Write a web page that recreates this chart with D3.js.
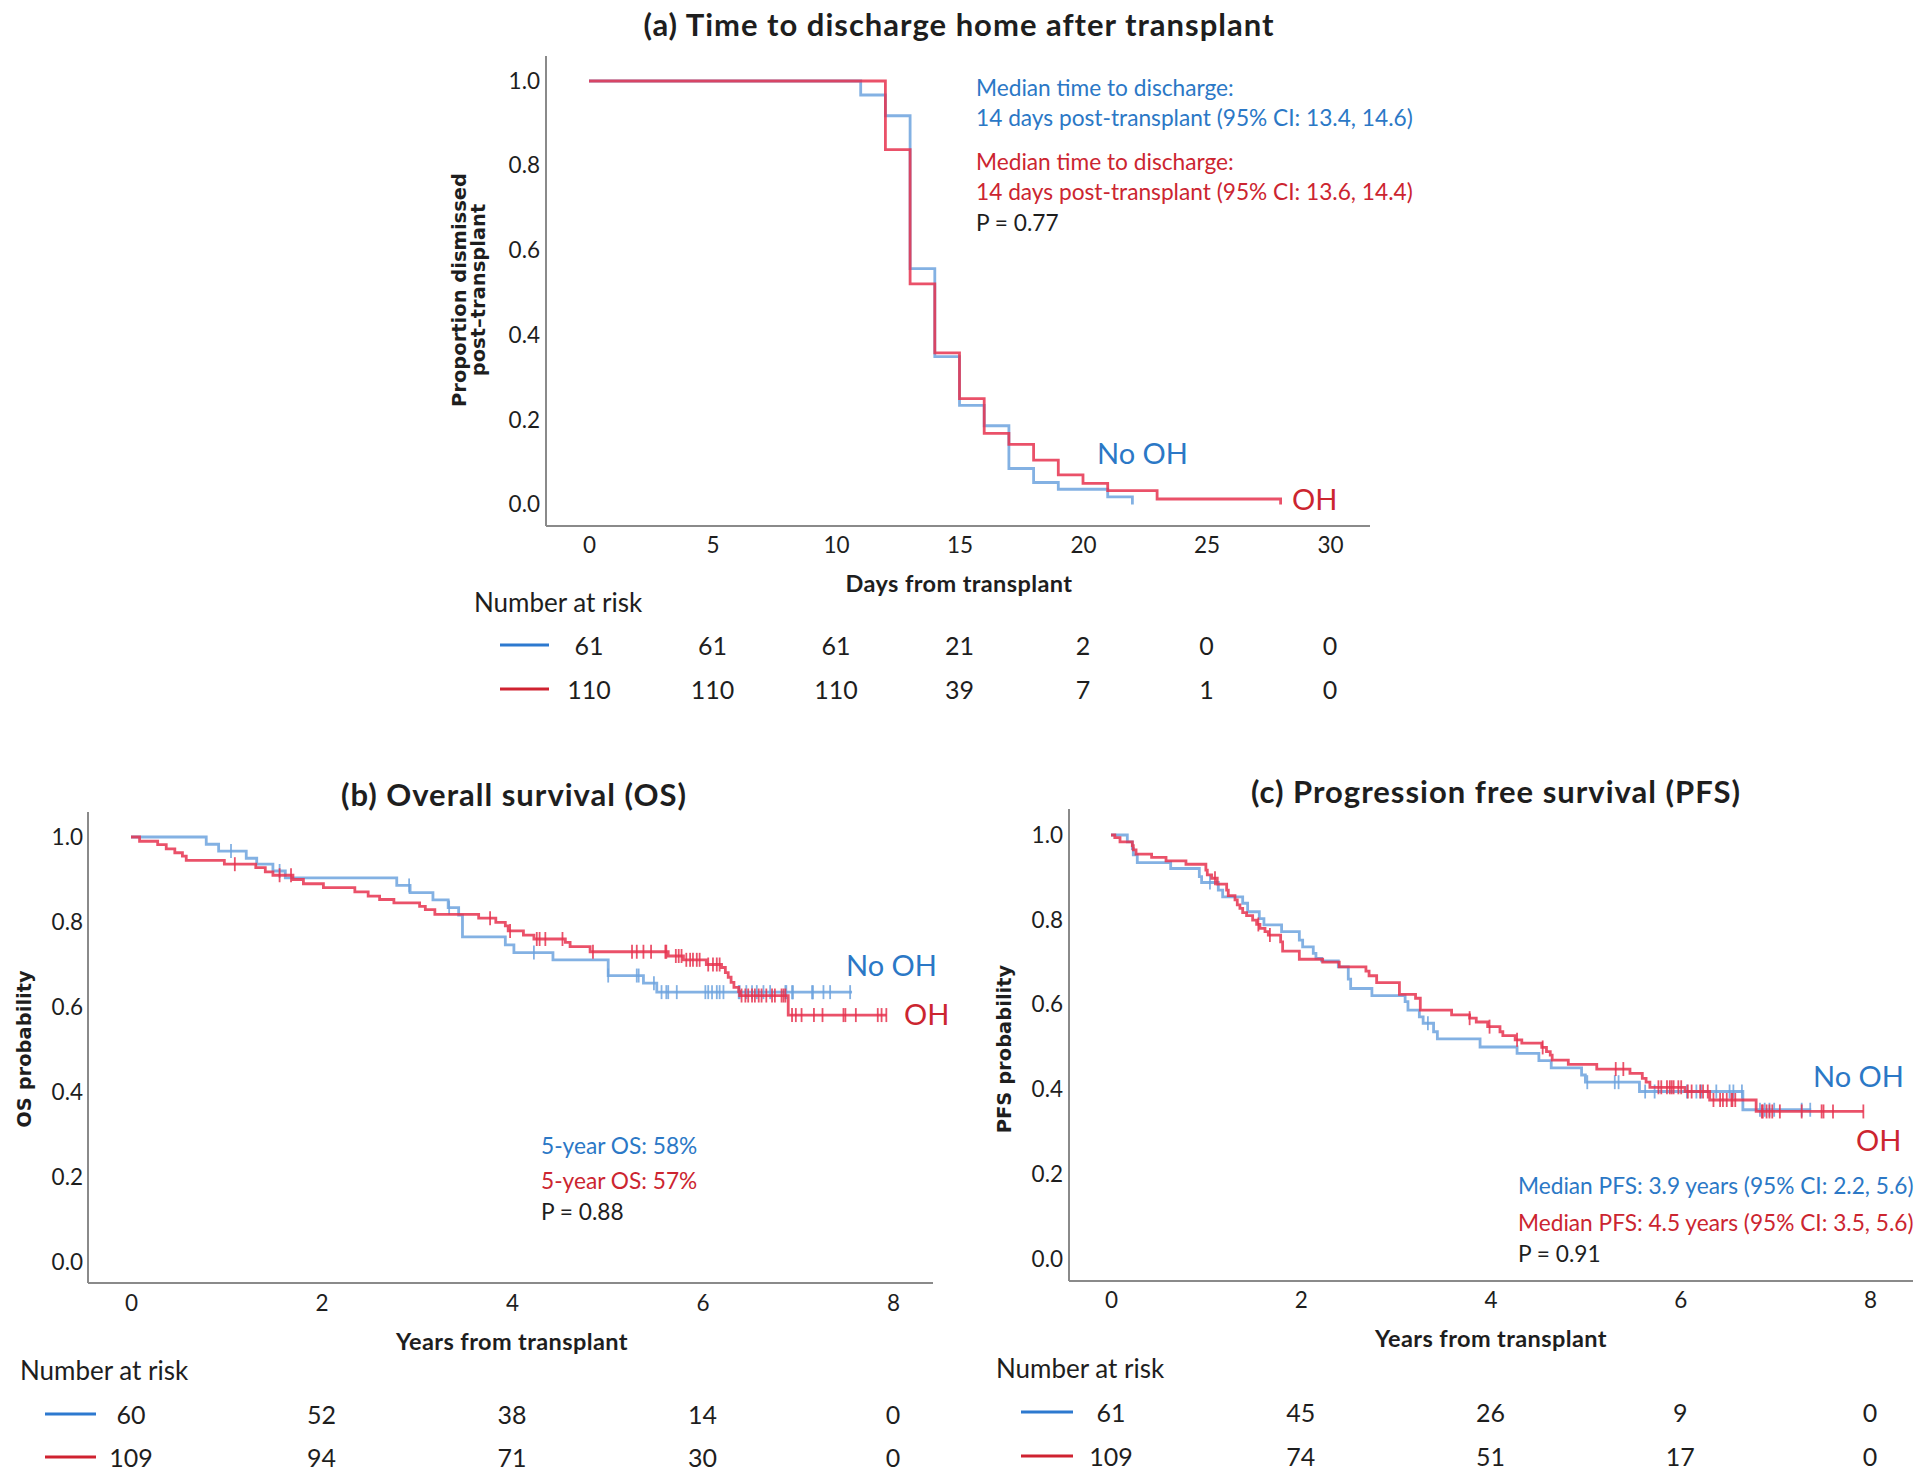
<!DOCTYPE html>
<html>
<head>
<meta charset="utf-8">
<script src="https://cdn.jsdelivr.net/npm/d3@7"></script>
<style>
  html, body { margin: 0; padding: 0; background: #fff; }
  svg { display: block; }
</style>
</head>
<body>
<svg id="chart" width="1920" height="1479"></svg>
<script>
// ---------------- DATA ----------------
// Panel (a): time to discharge (days)
const dischargeTicks = [0, 5, 10, 15, 20, 25, 30];
const dischargeNoOH_t = [0, 11, 12, 13, 14, 15, 16, 17, 18, 19, 21, 22];
const dischargeNoOH_s = [1, 0.967, 0.918, 0.557, 0.349, 0.234, 0.186, 0.085, 0.052, 0.036, 0.018, 0];
const dischargeNoOH_end = 22;
const dischargeOH_t = [0, 12, 13, 14, 15, 16, 17, 18, 19, 20, 21, 23, 28];
const dischargeOH_s = [1, 0.838, 0.521, 0.358, 0.25, 0.168, 0.142, 0.105, 0.07, 0.05, 0.033, 0.013, 0];
const dischargeOH_end = 28;
const dischargeRiskNoOH = [61, 61, 61, 21, 2, 0, 0];
const dischargeRiskOH = [110, 110, 110, 39, 7, 1, 0];

// Panel (b): overall survival (years)
const yearTicks = [0, 2, 4, 6, 8];
const probTicks = [0, 0.2, 0.4, 0.6, 0.8, 1.0];
const osNoOH_t = [0, 0.79, 0.92, 1.21, 1.32, 1.49, 1.62, 2.79, 2.93, 3.17, 3.33, 3.44, 3.48, 3.93, 4.02, 4.43, 5.01, 5.38, 5.52];
const osNoOH_s = [1, 0.983, 0.967, 0.95, 0.936, 0.92, 0.904, 0.886, 0.869, 0.852, 0.834, 0.816, 0.765, 0.746, 0.728, 0.711, 0.674, 0.656, 0.635];
const osNoOH_end = 7.57;
const osNoOH_censor = [1.05, 1.56, 2.92, 3.34, 4.23, 5.01, 5.31, 5.33, 5.49, 5.57, 5.62, 5.64, 5.73, 6.03, 6.06, 6.10, 6.15, 6.18, 6.22, 6.38, 6.39, 6.46, 6.52, 6.57, 6.64, 6.71, 6.87, 6.88, 6.94, 6.95, 7.15, 7.16, 7.27, 7.34, 7.55];
const osOH_t = [0, 0.09, 0.28, 0.37, 0.46, 0.54, 0.58, 0.98, 1.31, 1.41, 1.49, 1.70, 1.81, 2.02, 2.35, 2.49, 2.61, 2.76, 3.03, 3.09, 3.19, 3.65, 3.83, 3.93, 3.96, 4.12, 4.23, 4.56, 4.61, 4.82, 5.64, 5.80, 6.04, 6.20, 6.24, 6.27, 6.30, 6.33, 6.38, 6.39, 6.90];
const osOH_s = [1, 0.99, 0.982, 0.972, 0.963, 0.955, 0.945, 0.936, 0.928, 0.918, 0.91, 0.90, 0.89, 0.881, 0.871, 0.861, 0.853, 0.845, 0.837, 0.829, 0.818, 0.809, 0.799, 0.791, 0.779, 0.769, 0.76, 0.752, 0.742, 0.730, 0.72, 0.711, 0.70, 0.693, 0.681, 0.67, 0.658, 0.646, 0.636, 0.627, 0.581];
const osOH_end = 7.93;
const osOH_censor = [1.09, 1.56, 1.68, 3.77, 3.98, 4.26, 4.29, 4.35, 4.53, 4.85, 5.26, 5.31, 5.38, 5.46, 5.61, 5.62, 5.72, 5.75, 5.78, 5.83, 5.87, 5.90, 5.94, 5.97, 6.06, 6.11, 6.15, 6.18, 6.41, 6.45, 6.48, 6.52, 6.55, 6.59, 6.62, 6.67, 6.73, 6.76, 6.83, 6.85, 6.87, 6.94, 6.98, 7.04, 7.17, 7.26, 7.48, 7.50, 7.61, 7.84, 7.88, 7.93];
const osRiskNoOH = [60, 52, 38, 14, 0];
const osRiskOH = [109, 94, 71, 30, 0];

// Panel (c): progression free survival (years)
const pfsNoOH_t = [0, 0.172, 0.225, 0.235, 0.277, 0.629, 0.931, 0.955, 1.131, 1.177, 1.388, 1.44, 1.563, 1.612, 1.798, 1.985, 2.02, 2.132, 2.16, 2.22, 2.396, 2.501, 2.526, 2.75, 3.10, 3.13, 3.25, 3.29, 3.40, 3.44, 3.89, 4.28, 4.51, 4.64, 4.96, 5.00, 5.57, 6.66];
const pfsNoOH_s = [1, 0.984, 0.968, 0.953, 0.935, 0.921, 0.902, 0.888, 0.870, 0.854, 0.839, 0.819, 0.803, 0.788, 0.772, 0.752, 0.736, 0.721, 0.709, 0.703, 0.689, 0.66, 0.638, 0.621, 0.607, 0.587, 0.571, 0.556, 0.536, 0.519, 0.5, 0.485, 0.468, 0.451, 0.434, 0.417, 0.395, 0.352];
const pfsNoOH_end = 7.38;
const pfsNoOH_censor = [1.043, 3.34, 5.02, 5.31, 5.35, 5.63, 5.73, 6.07, 6.17, 6.22, 6.38, 6.52, 6.56, 6.65, 6.84, 6.89, 6.94, 6.99, 7.28, 7.37];
const pfsOH_t = [0, 0.04, 0.095, 0.225, 0.235, 0.264, 0.428, 0.58, 0.79, 1.0, 1.015, 1.061, 1.12, 1.219, 1.236, 1.307, 1.331, 1.359, 1.388, 1.429, 1.493, 1.535, 1.57, 1.623, 1.658, 1.788, 1.809, 1.985, 2.231, 2.406, 2.687, 2.72, 2.80, 3.04, 3.21, 3.26, 3.59, 3.78, 3.85, 3.97, 4.10, 4.13, 4.26, 4.33, 4.54, 4.59, 4.63, 4.65, 4.82, 5.12, 5.47, 5.60, 5.64, 5.68, 6.05, 6.31, 6.80];
const pfsOH_s = [1, 0.994, 0.984, 0.975, 0.965, 0.955, 0.947, 0.939, 0.931, 0.917, 0.906, 0.898, 0.884, 0.870, 0.857, 0.847, 0.835, 0.827, 0.817, 0.81, 0.799, 0.789, 0.78, 0.772, 0.764, 0.748, 0.726, 0.707, 0.70, 0.689, 0.679, 0.668, 0.652, 0.624, 0.615, 0.587, 0.576, 0.568, 0.559, 0.548, 0.536, 0.527, 0.517, 0.509, 0.499, 0.489, 0.481, 0.469, 0.459, 0.448, 0.438, 0.426, 0.417, 0.405, 0.395, 0.375, 0.348];
const pfsOH_end = 7.93;
const pfsOH_censor = [1.096, 1.553, 1.675, 3.78, 3.99, 4.28, 4.55, 5.32, 5.40, 5.77, 5.80, 5.86, 5.89, 5.91, 5.93, 5.98, 6.01, 6.08, 6.12, 6.21, 6.24, 6.29, 6.35, 6.42, 6.45, 6.49, 6.54, 6.55, 6.58, 6.86, 6.87, 6.91, 6.94, 6.97, 7.05, 7.28, 7.49, 7.51, 7.61, 7.93];
const pfsRiskNoOH = [61, 45, 26, 9, 0];
const pfsRiskOH = [109, 74, 51, 17, 0];

// ---------------- STYLE ----------------
const FONT = "Lato, 'Open Sans', sans-serif";
const WIDE = "'DejaVu Sans', Verdana, sans-serif";
const BLUE_TXT = "#2b78c6";
const RED_TXT = "#cc2530";
const BLUE_LINE = "#6da3de";
const RED_LINE = "#e6324f";
const AXIS = "#8a8a8a";
const INK = "#1e1e1e";

const svg = d3.select("#chart");

function stepPoints(ts, ss, end) {
  const pts = ts.map((t, i) => [t, ss[i]]);
  pts.push([end, ss[ss.length - 1]]);
  return pts;
}
function survAt(ts, ss, t) {
  const i = d3.bisectRight(ts, t) - 1;
  return ss[Math.max(0, i)];
}

function panel(cfg) {
  const g = svg.append("g");
  const x = d3.scaleLinear().domain(cfg.xDomain).range(cfg.xRange);
  const y = d3.scaleLinear().domain([0, 1]).range(cfg.yRange);

  // title
  g.append("text").attr("x", cfg.title.x).attr("y", cfg.title.y)
    .attr("text-anchor", "middle").attr("dominant-baseline", "central")
    .attr("font-family", FONT).attr("font-weight", "bold").attr("font-size", 31)
    .attr("letter-spacing", 1)
    .attr("fill", INK).text(cfg.title.text);

  // axis frame lines
  g.append("line").attr("x1", cfg.frame.left).attr("x2", cfg.frame.left)
    .attr("y1", cfg.frame.top).attr("y2", cfg.frame.bottom)
    .attr("stroke", AXIS).attr("stroke-width", 2);
  g.append("line").attr("x1", cfg.frame.left).attr("x2", cfg.frame.right)
    .attr("y1", cfg.frame.bottom).attr("y2", cfg.frame.bottom)
    .attr("stroke", AXIS).attr("stroke-width", 2);

  // y tick labels
  const yAxis = d3.axisLeft(y).tickValues(probTicks).tickSize(0).tickPadding(0)
    .tickFormat(d3.format(".1f"));
  const ya = g.append("g").attr("transform", `translate(${cfg.yLabelX},0)`).call(yAxis);
  ya.select(".domain").remove();
  ya.selectAll("text").attr("font-family", FONT).attr("font-size", 22.5).attr("fill", INK);

  // x tick labels
  const xAxis = d3.axisBottom(x).tickValues(cfg.xTicks).tickSize(0).tickPadding(0)
    .tickFormat(d3.format("d"));
  const xa = g.append("g").attr("transform", `translate(0,${cfg.xLabelY})`).call(xAxis);
  xa.select(".domain").remove();
  xa.selectAll("text").attr("font-family", FONT).attr("font-size", 22.5).attr("fill", INK)
    .attr("dy", "0.35em");

  // axis titles
  g.append("text").attr("x", cfg.xTitle.x).attr("y", cfg.xTitle.y)
    .attr("text-anchor", "middle").attr("dominant-baseline", "central")
    .attr("font-family", FONT).attr("font-weight", "bold").attr("font-size", 23.5)
    .attr("letter-spacing", 0.4)
    .attr("fill", INK).text(cfg.xTitle.text);
  const yt = g.append("text")
    .attr("transform", `translate(${cfg.yTitle.x},${cfg.yTitle.y}) rotate(-90)`)
    .attr("text-anchor", "middle")
    .attr("font-family", WIDE).attr("font-weight", "bold").attr("font-size", 19.5)
    .attr("fill", INK);
  cfg.yTitle.lines.forEach((ln, i) => {
    yt.append("tspan").attr("x", 0).attr("dy", i === 0 ? (cfg.yTitle.lines.length > 1 ? "-0.3em" : "0.35em") : "0.95em").text(ln);
  });

  // curves
  const line = d3.line().x(d => x(d[0])).y(d => y(d[1])).curve(d3.curveStepAfter);
  cfg.series.forEach(s => {
    g.append("path").datum(stepPoints(s.t, s.s, s.end))
      .attr("d", line).attr("fill", "none")
      .attr("stroke", s.color).attr("stroke-width", 2.8).attr("stroke-opacity", 0.85)
      .attr("stroke-linejoin", "miter");
    if (s.censor) {
      g.append("g").selectAll("line").data(s.censor).join("line")
        .attr("x1", d => x(d)).attr("x2", d => x(d))
        .attr("y1", d => y(survAt(s.t, s.s, d)) - 7)
        .attr("y2", d => y(survAt(s.t, s.s, d)) + 7)
        .attr("stroke", s.color).attr("stroke-width", 1.8).attr("stroke-opacity", 0.85);
    }
  });

  // group labels
  cfg.groupLabels.forEach(l => {
    g.append("text").attr("x", l.x).attr("y", l.y).attr("dominant-baseline", "central")
      .attr("font-family", FONT).attr("font-size", 29).attr("fill", l.color).text(l.text);
  });

  // annotations
  cfg.notes.forEach(n => {
    g.append("text").attr("x", n.x).attr("y", n.y).attr("dominant-baseline", "central")
      .attr("font-family", FONT).attr("font-size", 22.7).attr("fill", n.color).text(n.text);
  });

  // number at risk
  const r = cfg.risk;
  g.append("text").attr("x", r.labelX).attr("y", r.labelY).attr("dominant-baseline", "central")
    .attr("font-family", FONT).attr("font-size", 26).attr("fill", INK).text("Number at risk");
  r.rows.forEach(row => {
    g.append("line").attr("x1", r.lineX1).attr("x2", r.lineX2)
      .attr("y1", row.y).attr("y2", row.y)
      .attr("stroke", row.color).attr("stroke-width", 3);
    g.append("g").selectAll("text").data(row.values).join("text")
      .attr("x", (d, i) => x(cfg.xTicks[i])).attr("y", row.y)
      .attr("text-anchor", "middle").attr("dominant-baseline", "central")
      .attr("font-family", FONT).attr("font-size", 25).attr("fill", INK)
      .text(d => d);
  });
}

// Panel (a)
panel({
  xDomain: [0, 30], xRange: [589, 1330], yRange: [504.5, 81], xTicks: dischargeTicks,
  frame: { left: 546, right: 1370, top: 56, bottom: 526 },
  yLabelX: 540, xLabelY: 545,
  title: { x: 959, y: 24, text: "(a) Time to discharge home after transplant" },
  xTitle: { x: 959, y: 583, text: "Days from transplant" },
  yTitle: { x: 472, y: 290, lines: ["Proportion dismissed", "post–transplant"] },
  series: [
    { t: dischargeNoOH_t, s: dischargeNoOH_s, end: dischargeNoOH_end, color: BLUE_LINE },
    { t: dischargeOH_t, s: dischargeOH_s, end: dischargeOH_end, color: RED_LINE }
  ],
  groupLabels: [
    { x: 1097, y: 452, text: "No OH", color: BLUE_TXT },
    { x: 1292, y: 498, text: "OH", color: RED_TXT }
  ],
  notes: [
    { x: 976, y: 87, text: "Median time to discharge:", color: BLUE_TXT },
    { x: 976, y: 117, text: "14 days post-transplant (95% CI: 13.4, 14.6)", color: BLUE_TXT },
    { x: 976, y: 161, text: "Median time to discharge:", color: RED_TXT },
    { x: 976, y: 191, text: "14 days post-transplant (95% CI: 13.6, 14.4)", color: RED_TXT },
    { x: 976, y: 222, text: "P = 0.77", color: INK }
  ],
  risk: {
    labelX: 474, labelY: 602, lineX1: 500, lineX2: 549,
    rows: [
      { y: 645, values: dischargeRiskNoOH, color: "#2d79cf" },
      { y: 689, values: dischargeRiskOH, color: "#cf2230" }
    ]
  }
});

// Panel (b)
panel({
  xDomain: [0, 8], xRange: [131, 893], yRange: [1262, 837], xTicks: yearTicks,
  frame: { left: 88, right: 933, top: 812, bottom: 1283 },
  yLabelX: 83, xLabelY: 1303,
  title: { x: 514, y: 794, text: "(b) Overall survival (OS)" },
  xTitle: { x: 512, y: 1341, text: "Years from transplant" },
  yTitle: { x: 24, y: 1049, lines: ["OS probability"] },
  series: [
    { t: osNoOH_t, s: osNoOH_s, end: osNoOH_end, censor: osNoOH_censor, color: BLUE_LINE },
    { t: osOH_t, s: osOH_s, end: osOH_end, censor: osOH_censor, color: RED_LINE }
  ],
  groupLabels: [
    { x: 846, y: 964, text: "No OH", color: BLUE_TXT },
    { x: 904, y: 1013, text: "OH", color: RED_TXT }
  ],
  notes: [
    { x: 541, y: 1145, text: "5-year OS: 58%", color: BLUE_TXT },
    { x: 541, y: 1180, text: "5-year OS: 57%", color: RED_TXT },
    { x: 541, y: 1211, text: "P = 0.88", color: INK }
  ],
  risk: {
    labelX: 20, labelY: 1370, lineX1: 45, lineX2: 96,
    rows: [
      { y: 1414, values: osRiskNoOH, color: "#2d79cf" },
      { y: 1457, values: osRiskOH, color: "#cf2230" }
    ]
  }
});

// Panel (c)
panel({
  xDomain: [0, 8], xRange: [1111, 1870], yRange: [1259, 835], xTicks: yearTicks,
  frame: { left: 1069, right: 1913, top: 809, bottom: 1281 },
  yLabelX: 1063, xLabelY: 1300,
  title: { x: 1496, y: 791, text: "(c) Progression free survival (PFS)" },
  xTitle: { x: 1491, y: 1338, text: "Years from transplant" },
  yTitle: { x: 1004, y: 1049, lines: ["PFS probability"] },
  series: [
    { t: pfsNoOH_t, s: pfsNoOH_s, end: pfsNoOH_end, censor: pfsNoOH_censor, color: BLUE_LINE },
    { t: pfsOH_t, s: pfsOH_s, end: pfsOH_end, censor: pfsOH_censor, color: RED_LINE }
  ],
  groupLabels: [
    { x: 1813, y: 1075, text: "No OH", color: BLUE_TXT },
    { x: 1856, y: 1139, text: "OH", color: RED_TXT }
  ],
  notes: [
    { x: 1518, y: 1185, text: "Median PFS: 3.9 years (95% CI: 2.2, 5.6)", color: BLUE_TXT },
    { x: 1518, y: 1222, text: "Median PFS: 4.5 years (95% CI: 3.5, 5.6)", color: RED_TXT },
    { x: 1518, y: 1253, text: "P = 0.91", color: INK }
  ],
  risk: {
    labelX: 996, labelY: 1368, lineX1: 1021, lineX2: 1073,
    rows: [
      { y: 1412, values: pfsRiskNoOH, color: "#2d79cf" },
      { y: 1456, values: pfsRiskOH, color: "#cf2230" }
    ]
  }
});
</script>
</body>
</html>
